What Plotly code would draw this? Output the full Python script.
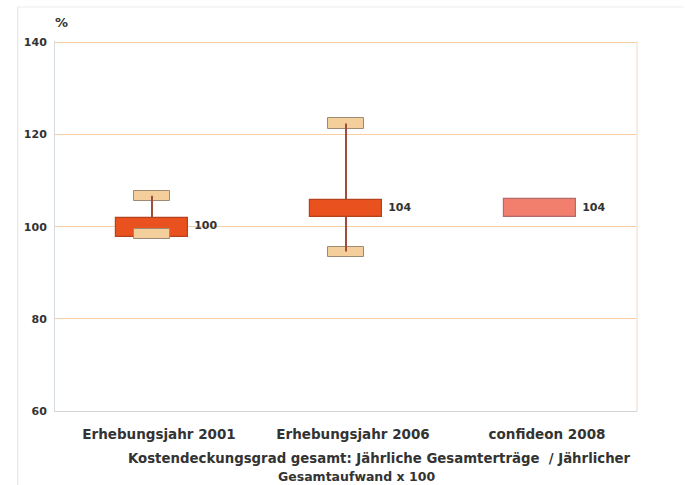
import plotly.graph_objects as go

# Cost-coverage ratio by survey: box = interquartile range, caps = min / max
categories = ["Erhebungsjahr 2001", "Erhebungsjahr 2006", "confideon 2008"]
box_low = [97.8, 102.2, 102.2]
box_high = [101.9, 105.8, 106.0]
range_min = [98.5, 94.6, None]
range_max = [106.7, 122.4, None]
medians = [100, 104, 104]
y_ticks = [60, 80, 100, 120, 140]

FONT = "DejaVu Sans, Arial, sans-serif"
TXT = "#333333"
BOX_W = 0.375
CAP_W = 0.19
CAP_H = 2.2
box_fill = ["#e9521f", "#e9521f", "#f27e6e"]
box_edge = ["#b5421c", "#b5421c", "#b26a6e"]

xs = list(range(len(categories)))
fig = go.Figure()

# whisker segments outside the boxes (scatter lines render above bars)
wx, wy = [], []
for x, lo, hi, bl, bh in zip(xs, range_min, range_max, box_low, box_high):
    if hi is not None and hi > bh:
        wx += [x, x, None]
        wy += [bh, hi, None]
    if lo is not None and lo < bl:
        wx += [x, x, None]
        wy += [lo, bl, None]
fig.add_trace(go.Scatter(
    x=wx, y=wy, mode="lines", line=dict(color="#a24b3c", width=2),
    hoverinfo="skip", showlegend=False))

# interquartile boxes
fig.add_trace(go.Bar(
    x=xs, y=[h - l for l, h in zip(box_low, box_high)], base=box_low,
    width=BOX_W, marker=dict(color=box_fill, line=dict(color=box_edge, width=1.2)),
    showlegend=False, hoverinfo="skip"))

# min / max caps
cap_x, cap_base = [], []
for x, lo, hi in zip(xs, range_min, range_max):
    for v in (lo, hi):
        if v is not None:
            cap_x.append(x)
            cap_base.append(v - CAP_H / 2)
fig.add_trace(go.Bar(
    x=cap_x, y=[CAP_H] * len(cap_x), base=cap_base, width=CAP_W,
    marker=dict(color="#f5cf9b", line=dict(color="#9c8a74", width=1)),
    showlegend=False, hoverinfo="skip"))

# median value labels
fig.add_trace(go.Scatter(
    x=[x + BOX_W / 2 + 0.03 for x in xs], y=medians, mode="text",
    text=[f"<b>{m}</b>" for m in medians], textposition="middle right",
    textfont=dict(family=FONT, size=11, color=TXT),
    showlegend=False, hoverinfo="skip"))

fig.update_layout(
    width=685, height=485,
    margin=dict(l=55, r=48, t=41, b=74),
    paper_bgcolor="white", plot_bgcolor="white",
    barmode="overlay", bargap=0,
    font=dict(family=FONT, color=TXT),
    xaxis=dict(
        range=[-0.5, 2.5], tickmode="array", tickvals=xs,
        ticktext=[f"<b>{c}</b>" for c in categories],
        tickfont=dict(family=FONT, size=13.5, color=TXT),
        ticks="", ticklabelshift=7, ticklabelstandoff=11,
        showgrid=False, zeroline=False,
        showline=True, linecolor="#d4d4d4", linewidth=1, mirror=False),
    yaxis=dict(
        range=[60, 140.3], tickmode="array", tickvals=y_ticks,
        ticktext=[f"<b>{t}</b>" for t in y_ticks],
        tickfont=dict(family=FONT, size=11, color=TXT),
        ticks="", ticklabelstandoff=5,
        showgrid=True, gridcolor="#f7cda4", gridwidth=1.2,
        zeroline=False, showline=True, linecolor="#d4dbe0", linewidth=1),
    shapes=[
        # outer chart frame (left and top)
        dict(type="line", xref="paper", yref="paper",
             x0=-0.064, x1=-0.064, y0=-0.3, y1=1.092,
             line=dict(color="#e2e2e2", width=1)),
        dict(type="line", xref="paper", yref="paper",
             x0=-0.064, x1=1.08, y0=1.092, y1=1.092,
             line=dict(color="#ececec", width=1)),
        # right edge of plot area
        dict(type="line", xref="paper", yref="paper",
             x0=1.0, x1=1.0, y0=0, y1=1.0,
             line=dict(color="#f4e6dc", width=1.5)),
    ],
    annotations=[
        dict(text="<b>%</b>", xref="paper", yref="paper", x=-0.003, y=1.05,
             xanchor="left", yanchor="middle", showarrow=False,
             font=dict(family=FONT, size=13, color=TXT)),
        dict(text="<b>Kostendeckungsgrad gesamt: Jährliche Gesamterträge  / Jährlicher</b>",
             xref="paper", yref="paper", x=(379 - 55) / 582, y=-(458 - 411) / 369,
             xanchor="center", yanchor="middle", showarrow=False,
             font=dict(family=FONT, size=13.3, color=TXT)),
        dict(text="<b>Gesamtaufwand x 100</b>",
             xref="paper", yref="paper", x=(356 - 55) / 582, y=-(476 - 411) / 369,
             xanchor="center", yanchor="middle", showarrow=False,
             font=dict(family=FONT, size=12.5, color=TXT)),
    ],
)

fig.write_html("out.html")
